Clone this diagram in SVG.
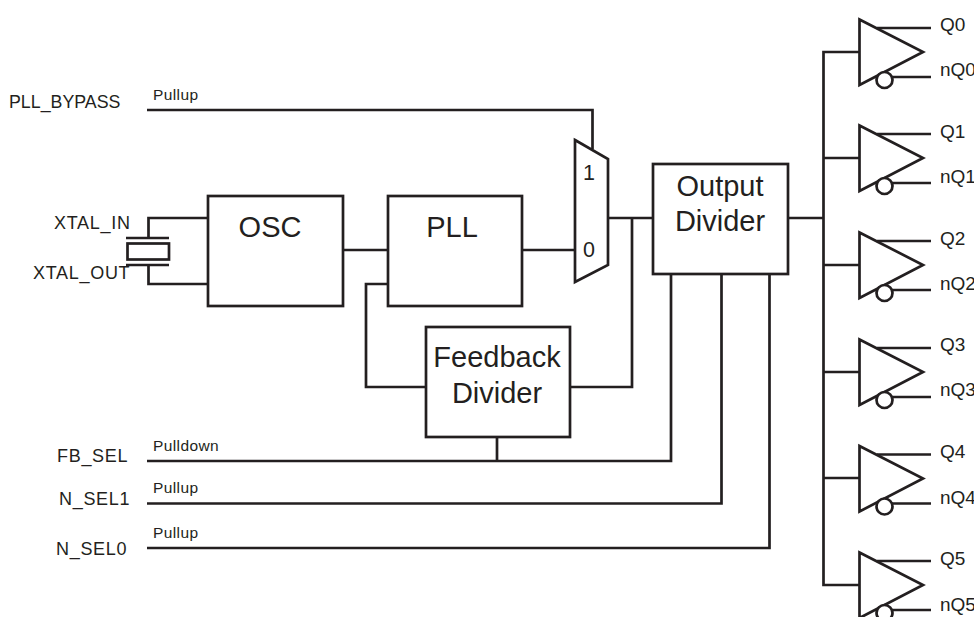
<svg xmlns="http://www.w3.org/2000/svg" width="974" height="617" viewBox="0 0 974 617">
<style>
.w{fill:none;stroke:#231f20;stroke-width:2.700;stroke-linejoin:miter}
.b{fill:#fff;stroke:#231f20;stroke-width:2.700}
text{font-family:"Liberation Sans",Arial,sans-serif;fill:#231f20}
.l{font-size:18px;letter-spacing:.7px}
.q{font-size:19px}
.s{font-size:15.500px;letter-spacing:.4px}
.n{font-size:29px;text-anchor:middle}
.m{font-size:21.500px;text-anchor:middle}
</style>
<defs>
<g id="buf">
<path class="w" d="M877 28H931M890 77H931"/>
<path class="b" d="M859.500 19.500L923 52L859.500 85Z"/>
<circle class="b" cx="884.500" cy="80" r="8"/>
</g>
</defs>
<rect width="974" height="617" fill="#fff"/>
<g id="connectors">
<path class="w" d="M147 110H592.500V149"/>
<path class="w" d="M208 218H148.500V238M208 284H148.500V265"/>
<path class="w" d="M343 250H388M522 250H575M608 218H653"/>
<path class="w" d="M632 218V387H570M426 387H366V284H388"/>
<path class="w" d="M147 461H671V274M497 461V437M147 503.500H721.500V274M147 548H769.500V274"/>
<path class="w" d="M788 218H823.500M859 52H823.500V585H859M823.500 158H859M823.500 265H859M823.500 372H859M823.500 478H859"/>
</g>
<g id="crystal">
<path class="w" d="M126 238H169M126 265H169"/>
<rect class="w" x="127.500" y="243.500" width="41.500" height="16"/>
<text class="l" x="54" y="229">XTAL_IN</text>
<text class="l" x="33" y="279">XTAL_OUT</text>
</g>
<g id="osc"><rect class="w" x="208" y="196" width="135" height="110"/><text class="n" x="270" y="237">OSC</text></g>
<g id="pll"><rect class="w" x="388" y="196" width="134" height="110"/><text class="n" x="452" y="237">PLL</text></g>
<g id="feedback"><rect class="w" x="426" y="327" width="144" height="110"/><text class="n" x="497" y="367">Feedback</text><text class="n" x="497" y="403">Divider</text></g>
<g id="outdiv"><rect class="w" x="653" y="164" width="135" height="110"/><text class="n" x="720" y="196">Output</text><text class="n" x="720" y="231">Divider</text></g>
<g id="mux"><path class="w" d="M575 140L608 159V265L575 282Z"/><text class="m" x="589" y="180">1</text><text class="m" x="589" y="257">0</text></g>
<g id="inputs">
<text class="l" x="9" y="108" style="letter-spacing:0;font-size:17.800px">PLL_BYPASS</text><text class="s" x="153" y="100">Pullup</text>
<text class="l" x="57" y="462">FB_SEL</text><text class="s" x="153" y="451">Pulldown</text>
<text class="l" x="59" y="505">N_SEL1</text><text class="s" x="153" y="493">Pullup</text>
<text class="l" x="56" y="555">N_SEL0</text><text class="s" x="153" y="538">Pullup</text>
</g>
<g id="q0"><use href="#buf"/><text class="q" x="940" y="31">Q0</text><text class="q" x="940" y="76">nQ0</text></g>
<g id="q1"><use href="#buf" y="106"/><text class="q" x="940" y="137.500">Q1</text><text class="q" x="940" y="183">nQ1</text></g>
<g id="q2"><use href="#buf" y="213"/><text class="q" x="940" y="244.500">Q2</text><text class="q" x="940" y="290">nQ2</text></g>
<g id="q3"><use href="#buf" y="320"/><text class="q" x="940" y="350.500">Q3</text><text class="q" x="940" y="396">nQ3</text></g>
<g id="q4"><use href="#buf" y="426.500"/><text class="q" x="940" y="458">Q4</text><text class="q" x="940" y="503.500">nQ4</text></g>
<g id="q5"><use href="#buf" y="533"/><text class="q" x="940" y="565">Q5</text><text class="q" x="940" y="610.500">nQ5</text></g>
</svg>
